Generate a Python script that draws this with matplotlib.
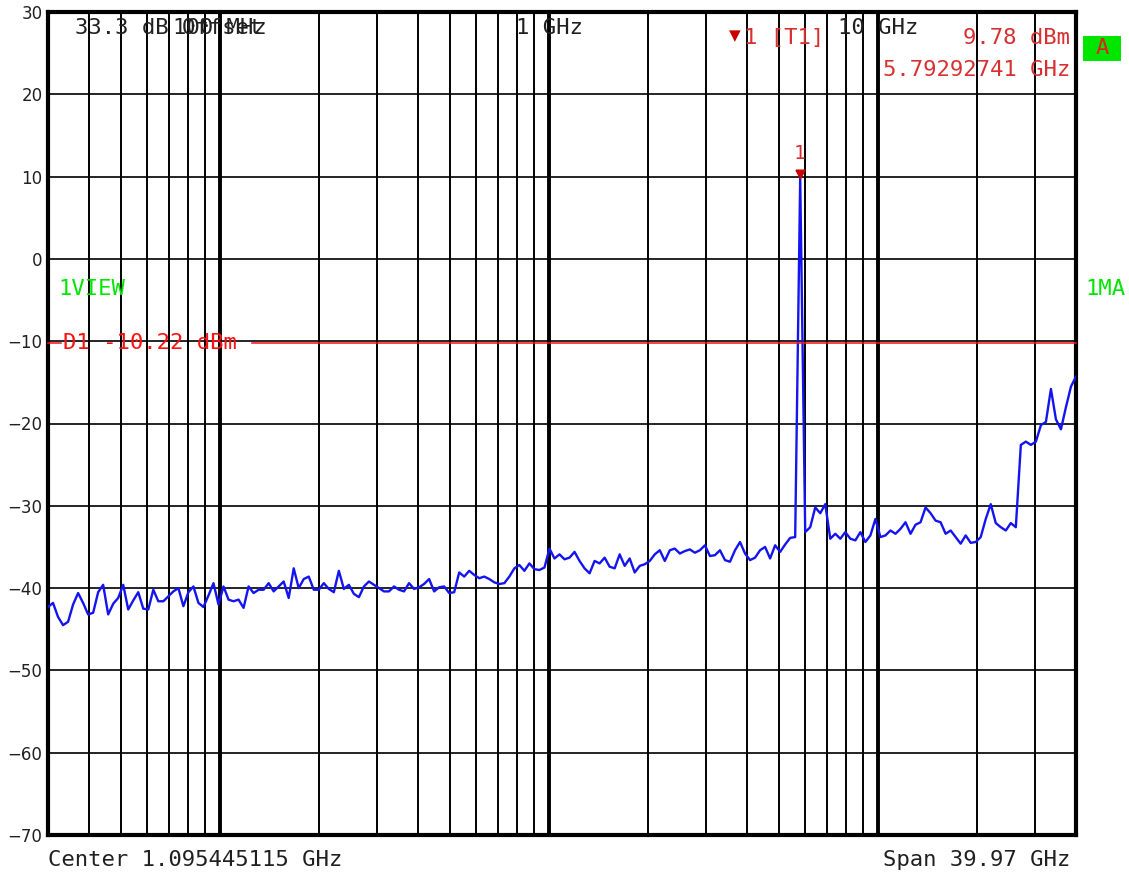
import matplotlib
matplotlib.use('Agg')
import matplotlib.pyplot as plt
import numpy as np
from matplotlib.ticker import LogLocator, NullFormatter
from matplotlib.markers import MarkerStyle
from matplotlib.patches import Rectangle

# sweep settings (log sweep, 30 MHz .. 40 GHz)
f_start = 30e6
f_stop = 40e9
center_text = 'Center 1.095445115 GHz'
span_text = 'Span 39.97 GHz'
ref_offset_text = '33.3 dB Offset'

# trace level per sweep point [dBm]
trace_dbm = [
    -42.3, -41.8, -43.5, -44.5, -44.1, -42.0, -40.6, -41.8, -43.2, -43.0,
    -40.5, -39.6, -43.2, -41.9, -41.2, -39.6, -42.6, -41.5, -40.5, -42.5,
    -42.6, -40.2, -41.6, -41.6, -41.0, -40.4, -40.0, -42.2, -40.5, -39.8,
    -41.8, -42.3, -40.9, -39.4, -42.0, -39.8, -41.4, -41.6, -41.4, -42.4,
    -39.8, -40.6, -40.2, -40.2, -39.4, -40.4, -39.8, -39.2, -41.2, -37.6,
    -40.0, -38.9, -38.6, -40.2, -40.2, -39.4, -40.1, -40.5, -37.9, -40.1,
    -39.6, -40.7, -41.1, -39.8, -39.2, -39.6, -40.0, -40.4, -40.4, -39.8,
    -40.2, -40.4, -39.4, -40.1, -39.9, -39.5, -38.9, -40.4, -39.9, -39.8,
    -40.6, -40.5, -38.1, -38.6, -37.9, -38.4, -38.8, -38.6, -38.9, -39.3,
    -39.5, -39.4, -38.6, -37.6, -37.2, -37.9, -37.0, -37.7, -37.8, -37.5,
    -35.2, -36.4, -35.9, -36.5, -36.3, -35.6, -36.7, -37.6, -38.2, -36.7,
    -37.0, -36.3, -37.4, -37.6, -35.9, -37.3, -36.4, -38.1, -37.3, -37.1,
    -36.7, -35.9, -35.4, -36.7, -35.4, -35.2, -35.8, -35.5, -35.3, -35.7,
    -35.4, -34.8, -36.1, -36.0, -35.4, -36.6, -36.8, -35.4, -34.4, -35.8,
    -36.6, -36.3, -35.4, -35.0, -36.4, -34.8, -35.6, -34.7, -33.9, -33.8,
    9.78, -33.2, -32.6, -30.2, -30.9, -29.8, -34.0, -33.4, -34.0, -33.2,
    -34.0, -34.2, -33.2, -34.4, -33.6, -31.6, -33.8, -33.6, -33.0, -33.4,
    -32.8, -32.0, -33.4, -32.3, -32.0, -30.2, -30.9, -31.8, -32.0, -33.4,
    -33.0, -33.8, -34.6, -33.6, -34.5, -34.4, -33.8, -31.6, -29.8, -32.1,
    -32.6, -33.0, -32.1, -32.6, -22.6, -22.2, -22.6, -22.2, -20.2, -19.8,
    -15.8, -19.5, -20.7, -18.0, -15.5, -14.3,
]

# marker 1 and display line D1
marker_freq = 5.79292741e9
marker_dbm = 9.78
d1_dbm = -10.22

y_min, y_max = -70, 30
y_ticks = list(range(-70, 31, 10))
decade_freqs = [100e6, 1e9, 10e9]
decade_labels = ['100 MHz', '1 GHz', '10 GHz']

trace_color = '#1414f0'
info_red = '#d83030'
line_red = '#ff1010'
green = '#00e600'
mono = 'DejaVu Sans Mono'
fs = 16

freqs = np.geomspace(f_start, f_stop, len(trace_dbm))

fig = plt.figure(figsize=(11.29, 8.75), dpi=100)
ax = fig.add_axes([48 / 1129, 40 / 875, 1028 / 1129, 823 / 875])

ax.set_xscale('log')
ax.set_xlim(f_start, f_stop)
ax.set_ylim(y_min, y_max)
ax.xaxis.set_major_locator(LogLocator(base=10))
ax.xaxis.set_minor_locator(LogLocator(base=10, subs=np.arange(2, 10)))
ax.xaxis.set_major_formatter(NullFormatter())
ax.xaxis.set_minor_formatter(NullFormatter())
ax.set_yticks(y_ticks)
ax.tick_params(axis='both', which='both', length=0)
ax.tick_params(axis='y', pad=4, labelsize=12, colors='#202020')

ax.grid(axis='x', which='major', color='black', linewidth=2.8)
ax.grid(axis='x', which='minor', color='black', linewidth=1.4)
ax.grid(axis='y', which='major', color='black', linewidth=1.2)
for sp in ax.spines.values():
    sp.set_linewidth(3.0)
    sp.set_color('black')

# trace
ax.plot(freqs, trace_dbm, color=trace_color, linewidth=1.7, zorder=3)

# display line, broken around its label
xa = ax.get_xaxis_transform()
ya = ax.get_yaxis_transform()
ax.plot([0, 0.013], [d1_dbm, d1_dbm], color=line_red, lw=1.1,
        transform=ya, zorder=4, clip_on=False)
ax.plot([0.198, 1], [d1_dbm, d1_dbm], color=line_red, lw=1.1,
        transform=ya, zorder=4, clip_on=False)
ax.text(0.015, d1_dbm, 'D1 -10.22 dBm', transform=ya, color=line_red,
        family=mono, fontsize=fs, va='center', ha='left', zorder=5)

# marker triangle with its tip on the peak
tri = MarkerStyle([(-0.55, 1.0), (0.55, 1.0), (0.0, 0.0), (-0.55, 1.0)])
ax.plot([marker_freq], [marker_dbm], marker=tri, ms=12, color='#c80000',
        linestyle='none', zorder=6)
ax.annotate('1', (marker_freq, marker_dbm), xytext=(0, 25),
            textcoords='offset pixels', ha='center', va='center',
            color=info_red, family=mono, fontsize=14, zorder=6)

# decade labels along the top
for f, lab in zip(decade_freqs, decade_labels):
    ax.text(f, 0.98, lab, transform=xa, ha='center', va='center',
            family=mono, fontsize=fs, color='#202020', zorder=5)
ax.text(0.026, 0.98, ref_offset_text, transform=ax.transAxes, ha='left',
        va='center', family=mono, fontsize=fs, color='#202020', zorder=5)

# marker readout
ax.text(0.668, 0.971, '\u25BC', transform=ax.transAxes, ha='center',
        va='center', fontsize=11, color='#c80000', zorder=6)
ax.text(0.677, 0.969, '1 [T1]', transform=ax.transAxes, ha='left',
        va='center', family=mono, fontsize=fs, color=info_red, zorder=6)
ax.text(0.994, 0.969, '%.2f dBm' % marker_dbm, transform=ax.transAxes,
        ha='right', va='center', family=mono, fontsize=fs, color=info_red,
        zorder=6)
ax.text(0.994, 0.929, '%.8f GHz' % (marker_freq / 1e9),
        transform=ax.transAxes, ha='right', va='center', family=mono,
        fontsize=fs, color=info_red, zorder=6)

# side annotations
ax.text(0.01, 0.663, '1VIEW', transform=ax.transAxes, ha='left',
        va='center', family=mono, fontsize=fs, color=green)
fig.text(1085 / 1129, 1 - 289 / 875, '1MA', ha='left', va='center',
         family=mono, fontsize=fs, color=green)
fig.patches.append(Rectangle((1083 / 1129, 1 - 61 / 875), 38 / 1129,
                             25 / 875, transform=fig.transFigure,
                             facecolor=green, edgecolor='none'))
fig.text(1102 / 1129, 1 - 48.5 / 875, 'A', ha='center', va='center',
         family=mono, fontsize=fs, color='#e02020')

# bottom info line
fig.text(48 / 1129, 1 - 860 / 875, center_text, ha='left', va='center',
         family=mono, fontsize=fs, color='#202020')
fig.text(1070 / 1129, 1 - 860 / 875, span_text, ha='right', va='center',
         family=mono, fontsize=fs, color='#202020')

fig.savefig('out.png', dpi=100)
